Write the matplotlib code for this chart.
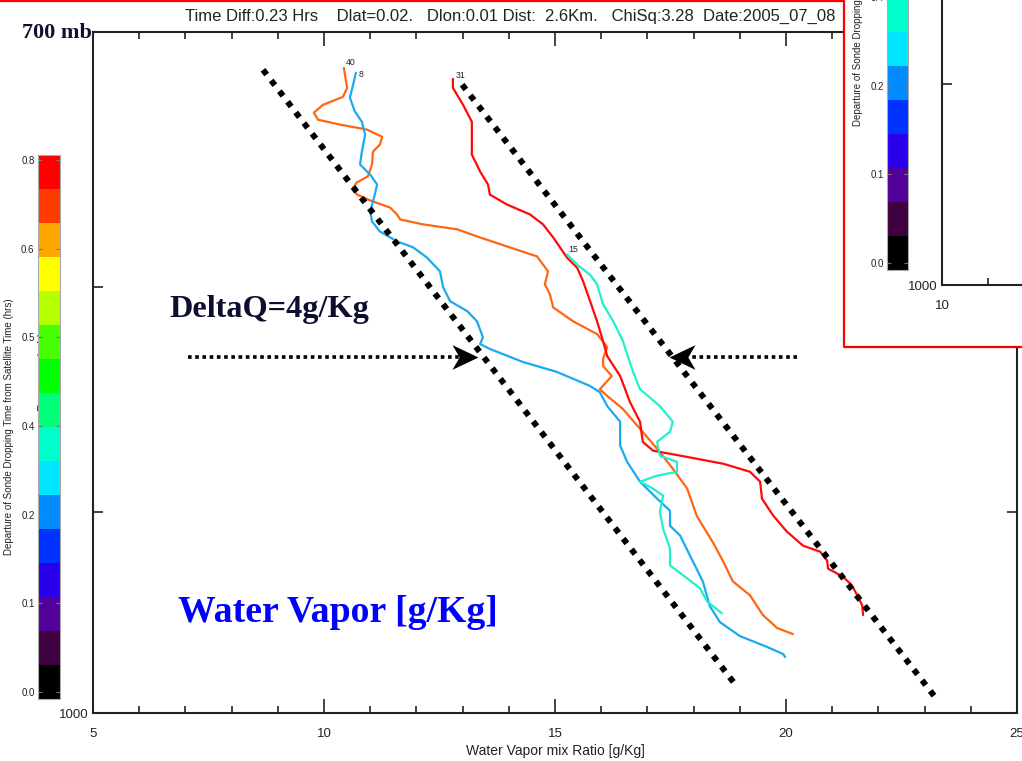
import numpy as np
import matplotlib
matplotlib.use('Agg')
import matplotlib.pyplot as plt
from matplotlib.colors import ListedColormap
from matplotlib.lines import Line2D
from matplotlib.patches import Rectangle
from matplotlib.path import Path
from matplotlib.ticker import NullLocator, NullFormatter

W, H = 1022, 761

# sonde profiles: water vapor mixing ratio [g/kg] vs pressure [mb]
q40 = [10.43, 10.50, 10.41, 9.98, 9.78, 9.87, 10.35, 10.93, 11.26, 11.21, 11.06, 11.04, 10.95,
       10.71, 10.63, 10.71, 11.06, 11.43, 11.58, 11.65, 12.14, 12.88, 13.31, 13.96, 14.61, 14.85,
       14.78, 14.89, 14.96, 15.39, 15.91, 16.13, 16.04, 16.04, 16.23, 15.97, 16.13, 16.47, 16.84,
       17.21, 17.55, 17.86, 18.07, 18.42, 18.64, 18.85, 19.22, 19.50, 19.81, 20.15]
p40 = [713.3, 720.8, 724.2, 727.2, 730.2, 732.9, 734.8, 736.7, 739.5, 742.5, 745.3, 750.3, 755.0,
       757.4, 759.4, 762.2, 765.0, 767.4, 770.2, 772.2, 774.2, 776.2, 779.1, 783.2, 787.3, 793.5,
       798.9, 803.1, 808.6, 814.5, 820.0, 825.6, 830.8, 833.8, 838.2, 844.0, 847.0, 852.8, 861.7,
       870.7, 879.9, 889.1, 902.0, 914.6, 923.7, 933.4, 940.2, 950.0, 956.5, 959.5]

q8 = [10.69, 10.63, 10.56, 10.67, 10.82, 10.89, 10.82, 10.78, 11.00, 11.15, 11.10, 11.00, 11.04,
      11.21, 11.58, 11.93, 12.23, 12.51, 12.58, 12.73, 13.10, 13.31, 13.44, 13.38, 13.59, 14.31,
      15.04, 15.76, 15.97, 16.13, 16.41, 16.41, 16.56, 16.84, 17.21, 17.49, 17.49, 17.71, 17.92,
      18.20, 18.35, 18.57, 19.00, 19.59, 19.94, 19.98]
p8 = [715.1, 719.6, 724.5, 729.8, 733.7, 738.7, 745.3, 750.3, 754.3, 758.2, 762.2, 769.0, 773.0,
      777.1, 781.1, 783.6, 787.8, 793.5, 800.2, 806.0, 810.2, 814.5, 821.3, 824.3, 826.4, 832.1,
      836.4, 842.6, 845.3, 851.5, 858.5, 869.3, 876.7, 885.9, 893.8, 899.5, 906.6, 911.3, 920.8,
      933.4, 945.6, 953.5, 960.5, 966.0, 969.6, 971.1]

q31 = [12.79, 12.79, 13.01, 13.20, 13.20, 13.20, 13.38, 13.55, 13.59, 13.96, 14.46, 14.74, 14.96,
       15.26, 15.48, 15.61, 15.76, 15.91, 16.04, 16.13, 16.41, 16.62, 16.84, 16.90, 17.12, 17.71,
       18.64, 19.22, 19.44, 19.48, 19.72, 20.02, 20.37, 20.74, 20.89, 20.91, 21.23, 21.43, 21.54,
       21.65, 21.67]
p31 = [717.4, 720.8, 727.2, 733.7, 739.8, 746.4, 753.1, 758.2, 762.2, 766.2, 770.2, 774.2, 779.5,
       787.8, 792.0, 797.7, 806.0, 814.5, 823.0, 829.5, 838.2, 849.6, 858.5, 867.6, 871.6, 873.9,
       877.6, 881.3, 885.9, 893.8, 901.7, 909.4, 916.1, 919.0, 923.3, 927.2, 931.0, 935.4, 940.2,
       945.2, 950.0]

q15 = [15.26, 15.48, 15.76, 15.91, 16.04, 16.26, 16.47, 16.56, 16.69, 16.84, 17.27, 17.55, 17.49,
       17.21, 17.27, 17.64, 17.64, 17.21, 16.84, 17.12, 17.34, 17.27, 17.34, 17.49, 17.49, 17.86,
       18.14, 18.29, 18.61]
p15 = [786.5, 790.7, 794.9, 798.9, 807.3, 814.5, 823.0, 828.6, 836.4, 844.0, 851.5, 858.5, 863.0,
       867.6, 873.9, 876.7, 881.3, 883.1, 885.9, 889.1, 892.4, 899.9, 908.0, 917.5, 925.6, 931.9,
       936.8, 943.2, 949.1]

sondes = [('40', q40, p40, '#ff6612'), ('8', q8, p8, '#1aaaf0'),
          ('31', q31, p31, '#ff0a0a'), ('15', q15, p15, '#22f0cc')]

# DeltaQ envelope lines and arrows (q, p)
env_left = ([8.68, 18.95], [714.0, 986.7])
env_right = ([12.99, 23.30], [719.6, 994.0])
arrow_left = ([7.06, 12.94], [830.0, 830.0])
arrow_right = ([20.24, 17.92], [830.0, 830.0])
head_left = (13.05, 830.0)
head_right = (17.75, 830.0)

# colour bar (departure time, hrs)
band_colors = ['#000000', '#3e003e', '#52009a', '#2a00ec', '#0032ff', '#008cff', '#00e4ff',
               '#00ffcc', '#00ff78', '#00ff00', '#46ff00', '#b4ff00', '#ffff00', '#ffa500',
               '#ff3c00', '#ff0000']
cbar_range = (-0.0105, 0.8075)
cbar_ticks = [0.0, 0.1333, 0.2667, 0.4, 0.5333, 0.6667, 0.8]
cbar_labels = ['0.0', '0.1', '0.2', '0.4', '0.5', '0.6', '0.8']
cbar_title = 'Departure of Sonde Dropping Time from Satellite Time (hrs)'

title = ('Time Diff:0.23 Hrs    Dlat=0.02.   Dlon:0.01 Dist:  2.6Km.   '
         'ChiSq:3.28  Date:2005_07_08')

plt.rcParams['font.family'] = ['Liberation Sans', 'DejaVu Sans']
serif = ['Liberation Serif', 'DejaVu Serif']

fig = plt.figure(figsize=(W / 100, H / 100), dpi=100)


def px_box(left, top, width, height):
    return [left / W, 1 - (top + height) / H, width / W, height / H]


def frame(ax, xlo, xhi):
    ax.set_yscale('log')
    ax.set_xlim(xlo, xhi)
    ax.set_ylim(1000, 700)
    ax.set_xticks(np.arange(xlo, xhi + 1, 5))
    ax.set_xticks(np.arange(xlo, xhi + 1, 1), minor=True)
    ax.set_yticks([700, 800, 900, 1000])
    ax.set_yticklabels(['', '', '', '1000'])
    ax.yaxis.set_minor_locator(NullLocator())
    ax.yaxis.set_minor_formatter(NullFormatter())
    ax.tick_params(which='both', direction='in', top=True, right=True,
                   color='#222222', width=1.2, labelsize=9.5, labelcolor='#222222')
    ax.tick_params(axis='x', which='major', length=10, pad=10.5)
    ax.tick_params(axis='x', which='minor', length=5)
    ax.tick_params(axis='y', which='major', length=7.5, pad=3.5)
    for s in ax.spines.values():
        s.set_linewidth(1.5)
        s.set_color('#222222')


def colour_bar(rect):
    cax = fig.add_axes(rect)
    cax.imshow(np.arange(len(band_colors)).reshape(-1, 1), cmap=ListedColormap(band_colors),
               aspect='auto', origin='lower', interpolation='nearest',
               extent=(0, 1, cbar_range[0], cbar_range[1]))
    cax.set_xlim(0, 1)
    cax.set_ylim(*cbar_range)
    cax.set_xticks([])
    cax.set_yticks(cbar_ticks)
    cax.set_yticklabels(cbar_labels)
    cax.tick_params(axis='y', direction='in', left=True, right=True, length=3, width=0.8,
                    color='#777777', labelsize=7, pad=2.5, labelcolor='#222222')
    for s in cax.spines.values():
        s.set_color('#aaaaaa')
        s.set_linewidth(0.8)
    cax.set_ylabel(cbar_title, fontsize=7, labelpad=5, color='#222222')
    cax.set_zorder(8)
    return cax


# main plot
ax = fig.add_axes(px_box(93, 32, 924, 681))
frame(ax, 5, 25)
ax.set_xlabel('Water Vapor mix Ratio [g/Kg]', fontsize=10, labelpad=3, color='#222222')

offsets = {'40': (1.5, 0.5), '8': (2.0, -4.5), '31': (2.0, -0.5), '15': (1.0, 0.0)}
for name, q, p, col in sondes:
    ax.plot(q, p, color=col, lw=1.6, solid_capstyle='round', solid_joinstyle='round')
    ax.annotate(name, (q[0], p[0]), xytext=offsets[name], textcoords='offset points',
                fontsize=6.3, ha='left', va='bottom', color='#222222')

for xs, ys in (env_left, env_right):
    ax.plot(xs, ys, color='k', lw=4.3, linestyle=(0, (1, 1.25)), dash_capstyle='butt')
for xs, ys in (arrow_left, arrow_right):
    ax.plot(xs, ys, color='k', lw=2.6, linestyle=(0, (1, 1)), dash_capstyle='butt')

stealth = Path([(1, 0), (-1, 0.95), (-0.45, 0), (-1, -0.95), (1, 0)],
               [Path.MOVETO, Path.LINETO, Path.LINETO, Path.LINETO, Path.CLOSEPOLY])
stealth_l = Path([(-1, 0), (1, 0.95), (0.45, 0), (1, -0.95), (-1, 0)],
                 [Path.MOVETO, Path.LINETO, Path.LINETO, Path.LINETO, Path.CLOSEPOLY])
ax.plot(*head_left, marker=stealth, ms=18.7, color='k', mew=0)
ax.plot(*head_right, marker=stealth_l, ms=18.7, color='k', mew=0)

ax.text(0.083, 0.592, 'DeltaQ=4g/Kg', transform=ax.transAxes, family=serif, weight='bold',
        fontsize=23.2, color='#0d0d30', ha='left', va='center')
ax.text(0.092, 0.147, 'Water Vapor [g/Kg]', transform=ax.transAxes, family=serif,
        weight='bold', fontsize=27.2, color='#0000ff', ha='left', va='center')

fig.text(43.5 / W, 1 - 371 / H, 'Pressure (mb)', rotation=90, fontsize=9, ha='center',
         va='center', color='#222222', zorder=2)
fig.text(185 / W, 1 - 16 / H, title, fontsize=12, ha='left', va='center',
         color='#222222', zorder=3)
fig.text(22 / W, 1 - 33 / H, '700 mb', family=serif, weight='bold', fontsize=16,
         color='#101030', ha='left', va='center', zorder=3)

colour_bar(px_box(38, 155, 22, 544))

# pasted inset (top right) with red border
fig.add_artist(Rectangle((844 / W, 1 - 347 / H), 1, 1, transform=fig.transFigure,
                         facecolor='white', edgecolor='none', zorder=6))
fig.add_artist(Line2D([0, 844 / W, 844 / W, 1], [1 - 1 / H, 1 - 1 / H, 1 - 347 / H, 1 - 347 / H],
                      transform=fig.transFigure, color='#ff0000', lw=1.6, zorder=6.5))

iax = fig.add_axes(px_box(942, 285 - 681, 924, 681))
frame(iax, 10, 30)
iax.set_facecolor('none')
iax.set_zorder(7)
colour_bar(px_box(887, 270 - 544, 21, 544))

fig.savefig('out.png', dpi=100)
